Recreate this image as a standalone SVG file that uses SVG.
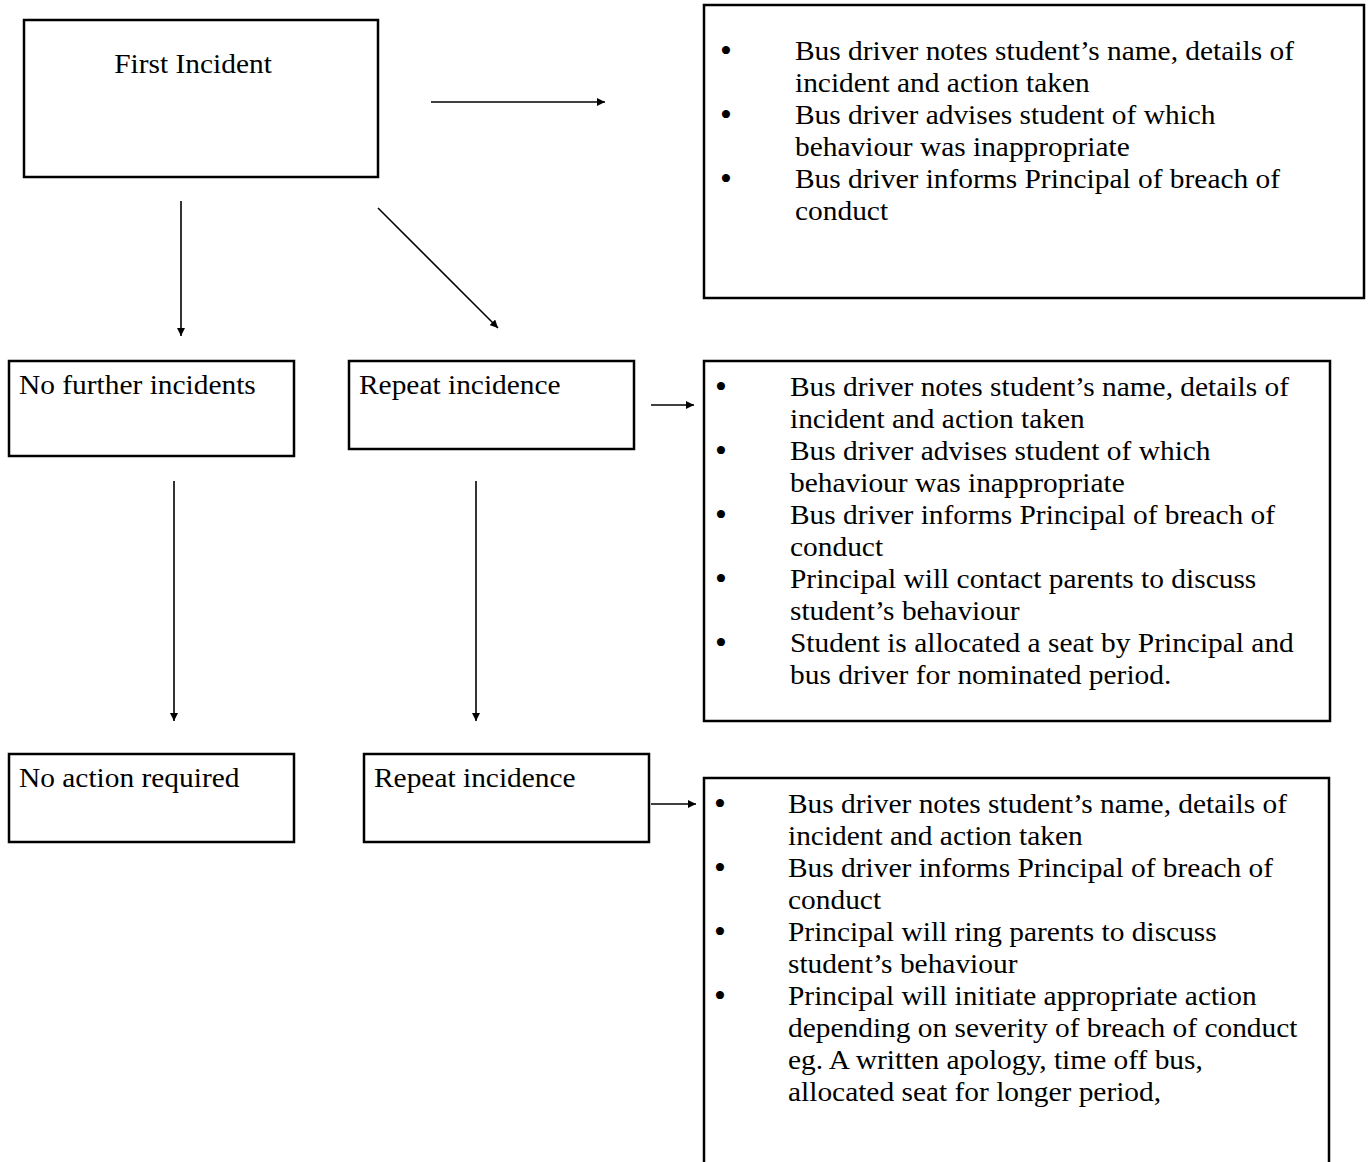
<svg xmlns="http://www.w3.org/2000/svg" width="1368" height="1162" viewBox="0 0 1368 1162">
<style>
.box{fill:#fff;stroke:#000;stroke-width:2.5}
.t{font-family:"Liberation Serif","Times New Roman",serif;font-size:26.5px;fill:#000}
.b{font-family:"Liberation Serif","Times New Roman",serif;font-size:34px;fill:#000;text-anchor:middle}
.c{stroke:#000;stroke-width:1.6;fill:none}
</style>
<defs>
<marker id="ah" viewBox="0 0 10 10" refX="10" refY="5" markerWidth="8" markerHeight="8" markerUnits="userSpaceOnUse" orient="auto">
<path d="M0,0 L10,5 L0,10 z" fill="#000"/>
</marker>
</defs>
<rect width="1368" height="1162" fill="#fff"/>
<g id="connectors">
<line class="c" x1="431" y1="102" x2="605" y2="102" marker-end="url(#ah)" stroke-width="2"/>
<line class="c" x1="181" y1="201" x2="181" y2="336" marker-end="url(#ah)"/>
<line class="c" x1="378" y1="208" x2="498" y2="328" marker-end="url(#ah)"/>
<line class="c" x1="651" y1="405" x2="694" y2="405" marker-end="url(#ah)"/>
<line class="c" x1="174" y1="481" x2="174" y2="721" marker-end="url(#ah)"/>
<line class="c" x1="476" y1="481" x2="476" y2="721" marker-end="url(#ah)"/>
<line class="c" x1="651" y1="804" x2="696" y2="804" marker-end="url(#ah)"/>
</g>
<g id="first-incident">
<rect class="box" x="24" y="20" width="354" height="157"/>
<g transform="translate(193,0) scale(1.11,1)"><text class="t" x="0" y="73" text-anchor="middle">First Incident</text></g>
</g>
<g id="first-actions">
<rect class="box" x="704" y="5" width="660" height="293"/>
<text class="b" x="726" y="62">•</text>
<text class="b" x="726" y="126">•</text>
<text class="b" x="726" y="190">•</text>
<g transform="translate(795,0) scale(1.11,1)">
<text class="t" x="0" y="60">Bus driver notes student’s name, details of</text>
<text class="t" x="0" y="92">incident and action taken</text>
<text class="t" x="0" y="124">Bus driver advises student of which</text>
<text class="t" x="0" y="156">behaviour was inappropriate</text>
<text class="t" x="0" y="188">Bus driver informs Principal of breach of</text>
<text class="t" x="0" y="220">conduct</text>
</g>
</g>
<g id="no-further">
<rect class="box" x="9" y="361" width="285" height="95"/>
<g transform="translate(19,0) scale(1.11,1)"><text class="t" x="0" y="394">No further incidents</text></g>
</g>
<g id="repeat-1">
<rect class="box" x="349" y="361" width="285" height="88"/>
<g transform="translate(359,0) scale(1.11,1)"><text class="t" x="0" y="394">Repeat incidence</text></g>
</g>
<g id="repeat-1-actions">
<rect class="box" x="704" y="361" width="626" height="360"/>
<text class="b" x="721" y="398">•</text>
<text class="b" x="721" y="462">•</text>
<text class="b" x="721" y="526">•</text>
<text class="b" x="721" y="590">•</text>
<text class="b" x="721" y="654">•</text>
<g transform="translate(790,0) scale(1.11,1)">
<text class="t" x="0" y="396">Bus driver notes student’s name, details of</text>
<text class="t" x="0" y="428">incident and action taken</text>
<text class="t" x="0" y="460">Bus driver advises student of which</text>
<text class="t" x="0" y="492">behaviour was inappropriate</text>
<text class="t" x="0" y="524">Bus driver informs Principal of breach of</text>
<text class="t" x="0" y="556">conduct</text>
<text class="t" x="0" y="588">Principal will contact parents to discuss</text>
<text class="t" x="0" y="620">student’s behaviour</text>
<text class="t" x="0" y="652">Student is allocated a seat by Principal and</text>
<text class="t" x="0" y="684">bus driver for nominated period.</text>
</g>
</g>
<g id="no-action">
<rect class="box" x="9" y="754" width="285" height="88"/>
<g transform="translate(19,0) scale(1.11,1)"><text class="t" x="0" y="787">No action required</text></g>
</g>
<g id="repeat-2">
<rect class="box" x="364" y="754" width="285" height="88"/>
<g transform="translate(374,0) scale(1.11,1)"><text class="t" x="0" y="787">Repeat incidence</text></g>
</g>
<g id="repeat-2-actions">
<path class="box" d="M704,1170 V778 H1329 V1170"/>
<text class="b" x="720" y="815">•</text>
<text class="b" x="720" y="879">•</text>
<text class="b" x="720" y="943">•</text>
<text class="b" x="720" y="1007">•</text>
<g transform="translate(788,0) scale(1.11,1)">
<text class="t" x="0" y="813">Bus driver notes student’s name, details of</text>
<text class="t" x="0" y="845">incident and action taken</text>
<text class="t" x="0" y="877">Bus driver informs Principal of breach of</text>
<text class="t" x="0" y="909">conduct</text>
<text class="t" x="0" y="941">Principal will ring parents to discuss</text>
<text class="t" x="0" y="973">student’s behaviour</text>
<text class="t" x="0" y="1005">Principal will initiate appropriate action</text>
<text class="t" x="0" y="1037">depending on severity of breach of conduct</text>
<text class="t" x="0" y="1069">eg. A written apology, time off bus,</text>
<text class="t" x="0" y="1101">allocated seat for longer period,</text>
</g>
</g>
</svg>
